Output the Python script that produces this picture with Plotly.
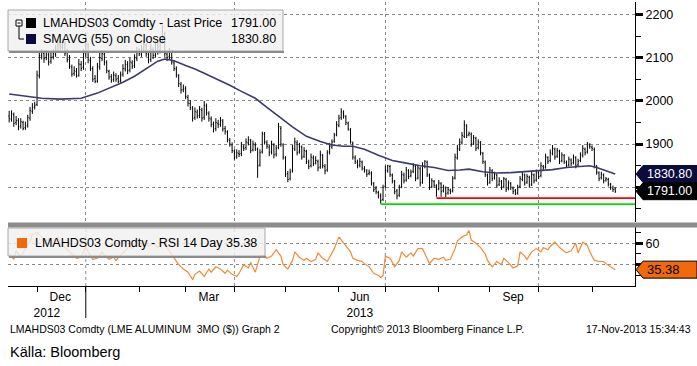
import plotly.graph_objects as go
import pandas as pd

W, H = 697, 366
FONT = "Liberation Sans, Arial, sans-serif"

# ---------------- data ----------------
start_date = "2012-11-15"
n_days = 262
dates = pd.bdate_range(start_date, periods=n_days)

open_ = [1965,1958,1968,1950,1954,1942,1950,1938,1944,1960,
 1976,1986,1992,2058,2104,2110,2100,2106,2092,2102,
 2108,2118,2128,2124,2132,2112,2096,2078,2064,2068,
 2060,2084,2078,2108,2128,2094,2074,2052,2046,2078,
 2098,2108,2088,2068,2056,2050,2058,2052,2046,2062,
 2074,2084,2072,2088,2082,2098,2114,2108,2118,2128,
 2108,2096,2118,2106,2128,2116,2138,2155,2108,2102,
 2112,2088,2074,2058,2038,2026,2028,2008,1994,1982,
 1962,1974,1966,1978,1962,1988,1970,1958,1946,1936,
 1948,1946,1952,1936,1928,1908,1898,1884,1872,1878,
 1878,1893,1892,1903,1908,1887,1898,1888,1852,1882,
 1922,1903,1893,1882,1898,1877,1892,1936,1898,1868,
 1832,1820,1838,1888,1903,1882,1893,1872,1883,1858,
 1850,1868,1857,1860,1847,1873,1848,1840,1882,1893,
 1907,1922,1943,1962,1972,1963,1948,1933,1902,1868,
 1858,1852,1858,1843,1838,1832,1833,1808,1797,1788,
 1782,1772,1802,1838,1848,1828,1813,1792,1782,1802,
 1828,1817,1838,1827,1837,1848,1822,1843,1812,1848,
 1858,1828,1802,1813,1803,1797,1808,1792,1798,1787,
 1793,1792,1822,1868,1888,1903,1918,1942,1922,1923,
 1902,1913,1892,1903,1878,1858,1828,1812,1838,1822,
 1828,1807,1813,1802,1818,1797,1808,1798,1792,1787,
 1802,1818,1828,1812,1823,1807,1828,1817,1833,1827,
 1848,1847,1868,1862,1878,1888,1872,1883,1862,1873,
 1858,1852,1863,1857,1868,1852,1862,1873,1888,1882,
 1898,1893,1888,1848,1833,1822,1828,1817,1818,1806,
 1798,1796]

high = [1977,1978,1973,1965,1960,1960,1954,1952,1968,1986,
 1995,1998,2070,2115,2120,2116,2118,2112,2112,2120,
 2130,2142,2136,2143,2138,2120,2106,2084,2080,2076,
 2097,2092,2120,2157,2134,2102,2080,2060,2088,2112,
 2118,2114,2094,2072,2062,2068,2064,2060,2068,2085,
 2095,2092,2100,2094,2108,2125,2122,2130,2142,2134,
 2114,2132,2124,2140,2136,2150,2176,2160,2116,2123,
 2118,2094,2080,2062,2044,2038,2034,2014,2002,1988,
 1985,1980,1988,1984,2000,1994,1976,1964,1952,1960,
 1956,1963,1958,1942,1932,1914,1904,1888,1888,1886,
 1905,1899,1913,1918,1912,1908,1904,1892,1888,1929,
 1928,1909,1899,1908,1902,1898,1949,1942,1902,1872,
 1838,1843,1898,1915,1909,1903,1897,1893,1887,1864,
 1878,1874,1872,1864,1885,1877,1854,1886,1903,1911,
 1926,1953,1968,1983,1978,1967,1952,1937,1906,1874,
 1864,1868,1862,1849,1842,1841,1837,1812,1803,1792,
 1786,1806,1850,1852,1852,1832,1817,1796,1806,1838,
 1834,1847,1842,1841,1856,1852,1851,1847,1858,1863,
 1862,1832,1821,1817,1807,1817,1812,1806,1802,1801,
 1797,1826,1878,1898,1913,1928,1955,1946,1929,1927,
 1921,1917,1911,1907,1882,1862,1832,1847,1842,1836,
 1832,1823,1817,1824,1822,1816,1812,1802,1796,1806,
 1826,1836,1832,1831,1827,1836,1832,1841,1837,1858,
 1852,1878,1872,1888,1898,1892,1891,1887,1881,1877,
 1862,1871,1867,1876,1872,1866,1881,1898,1892,1905,
 1902,1897,1892,1852,1837,1836,1832,1824,1822,1810,
 1804,1800]

low = [1950,1952,1940,1944,1932,1936,1932,1933,1938,1954,
 1970,1980,1988,2052,2096,2088,2094,2082,2086,2096,
 2102,2112,2117,2118,2104,2089,2074,2056,2058,2054,
 2056,2069,2072,2102,2087,2069,2044,2041,2042,2072,
 2092,2082,2064,2049,2042,2044,2044,2041,2042,2056,
 2068,2062,2066,2074,2076,2092,2104,2102,2112,2102,
 2087,2090,2097,2100,2107,2110,2132,2102,2092,2096,
 2084,2069,2054,2032,2017,2020,2004,1987,1979,1952,
 1956,1959,1960,1952,1956,1966,1952,1939,1927,1930,
 1937,1940,1929,1922,1904,1894,1879,1864,1866,1870,
 1872,1884,1886,1897,1879,1883,1884,1822,1848,1878,
 1899,1889,1872,1876,1867,1871,1888,1894,1864,1824,
 1812,1816,1834,1884,1874,1878,1864,1868,1854,1842,
 1846,1849,1853,1837,1843,1844,1830,1836,1876,1889,
 1903,1918,1939,1956,1959,1944,1931,1901,1864,1854,
 1844,1846,1839,1834,1824,1828,1804,1789,1784,1774,
 1762,1768,1798,1834,1824,1809,1784,1772,1778,1798,
 1809,1813,1819,1823,1833,1814,1818,1802,1808,1844,
 1824,1794,1798,1799,1778,1793,1778,1788,1777,1783,
 1784,1788,1818,1864,1884,1899,1914,1914,1918,1894,
 1898,1884,1888,1874,1854,1824,1804,1808,1814,1818,
 1799,1803,1794,1798,1789,1793,1794,1784,1782,1783,
 1798,1814,1804,1808,1799,1803,1809,1813,1819,1823,
 1839,1843,1854,1858,1874,1864,1868,1854,1858,1854,
 1846,1848,1849,1853,1844,1848,1858,1869,1874,1878,
 1889,1884,1844,1829,1814,1818,1809,1813,1802,1794,
 1789,1787]

close = [1960,1970,1948,1955,1940,1952,1936,1942,1962,1978,
 1985,1990,2060,2105,2112,2098,2108,2090,2100,2110,
 2120,2130,2125,2135,2110,2095,2080,2062,2070,2058,
 2085,2075,2110,2130,2095,2075,2050,2045,2080,2100,
 2110,2090,2070,2055,2048,2060,2050,2045,2060,2075,
 2085,2070,2090,2080,2100,2115,2110,2120,2130,2110,
 2095,2120,2105,2130,2115,2140,2160,2110,2100,2115,
 2090,2075,2060,2040,2025,2030,2010,1995,1985,1960,
 1975,1965,1980,1960,1990,1972,1960,1945,1935,1950,
 1945,1955,1935,1930,1910,1900,1885,1870,1880,1876,
 1895,1890,1905,1910,1885,1900,1890,1850,1880,1925,
 1905,1895,1880,1900,1875,1890,1940,1900,1870,1830,
 1818,1835,1890,1905,1880,1895,1870,1885,1860,1848,
 1870,1855,1862,1845,1875,1850,1838,1880,1895,1905,
 1920,1945,1960,1975,1965,1950,1935,1905,1870,1860,
 1850,1860,1845,1840,1830,1835,1810,1795,1790,1780,
 1770,1800,1840,1850,1830,1815,1790,1780,1800,1830,
 1815,1840,1825,1835,1850,1820,1845,1810,1850,1860,
 1830,1800,1815,1805,1795,1810,1790,1800,1785,1795,
 1790,1820,1870,1890,1905,1920,1945,1920,1925,1900,
 1915,1890,1905,1880,1860,1830,1810,1840,1820,1830,
 1805,1815,1800,1820,1795,1810,1800,1790,1785,1800,
 1820,1830,1810,1825,1805,1830,1815,1835,1825,1850,
 1845,1870,1860,1880,1890,1870,1885,1860,1875,1860,
 1850,1865,1855,1870,1850,1860,1875,1890,1880,1900,
 1895,1890,1850,1835,1820,1830,1815,1820,1808,1800,
 1795,1791]

sma_idx = [0,6,14,22,31,38,43,49,54,60,64,67,71,76,80,84,89,95,100,106,
 111,117,122,128,134,139,144,148,153,159,165,171,177,183,189,194,198,204,210,216,
 222,228,234,240,246,250,253,257,261]
sma_val = [2016,2012,2006,2004,2006,2018,2030,2043,2057,2078,2092,2097,2093,2082,2074,
 2064,2052,2036,2022,2006,1985,1960,1940,1918,1906,1898,1895,1895,1888,1874,
 1862,1856,1850,1846,1839,1840,1842,1836,1833,1834,1836,1838,1841,1846,1849,
 1850,1846,1838,1830.8]

rsi_idx = [0,2,3,5,7,9,10,12,14,15,17,19,21,22,24,26,27,29,31,33,
 34,36,38,40,41,43,45,46,48,50,52,53,55,57,58,60,62,64,65,67,
 68,70,72,73,75,77,79,80,82,84,86,87,89,91,93,94,96,98,99,101,
 103,104,106,108,110,111,113,115,117,118,120,122,123,125,127,128,130,132,133,135,
 137,138,140,142,143,145,147,148,150,152,153,155,157,159,160,161,162,164,166,168,
 169,171,173,174,176,178,180,181,183,185,187,188,190,192,193,195,197,198,199,201,
 203,205,206,208,210,212,213,215,217,219,220,222,223,225,227,229,230,232,233,235,
 237,239,240,242,244,245,247,249,250,252,254,256,257,259,261]
rsi_val = [50,45,53,47,55,62,68,70,66,60,64,62,66,60,56,52,50,46,47,57,
 52,45,46,52,49,45,47,44,49,53,58,55,60,58,62,57,60,56,58,61,
 56,50,44,40,36,33,26,31,34,29,36,33,38,36,32,35,31,29,32,40,
 37,42,33,48,49,46,48,54,48,40,36,44,52,47,44,46,43,45,51,46,
 43,47,55,66,63,58,52,46,44,43,41,38,32,30,28,30,48,46,38,44,
 52,47,51,48,55,55,46,41,46,45,47,44,45,55,62,66,68,72,63,60,
 56,50,44,38,43,40,46,42,37,39,52,48,45,52,55,52,56,54,57,61,
 56,53,51,53,60,51,61,58,52,44,43,43,41,38,35.38]

support_start = ["2013-06-27", "2013-07-31"]
support_level = [1761, 1775]
support_color = ["#00e000", "#ff0000"]

grid_dates = ["2013-01-01", "2013-04-01", "2013-07-01", "2013-10-01"]
month_starts = ["2012-12-03", "2013-01-01", "2013-02-01", "2013-03-01", "2013-04-01",
                "2013-05-01", "2013-06-03", "2013-07-01", "2013-08-01", "2013-09-02",
                "2013-10-01", "2013-11-01"]
label_dates = ["2012-12-17", "2013-03-15", "2013-06-14", "2013-09-16"]
label_text = ["Dec<br>2012" + "\u00a0" * 8, "Mar", "Jun<br>2013", "Sep"]
price_ticks = [1800, 1900, 2000, 2100, 2200]
price_tick_text = ["", "1900", "2000", "2100", "2200"]   # 1800 hidden behind the tag
rsi_ticks = [40, 60]
rsi_tick_text = ["", "60"]                               # 40 hidden behind the tag
x_range = ["2012-11-14 12:00", "2013-11-27 12:00"]
price_range = [1719.7, 2228.9]
rsi_range = [20.1, 75.2]

# ---------------- helpers (layout decoration positions in px) ----------------
def fx(px):
    return px / W

def fy(px):
    return 1 - px / H

sma_dates = [dates[i] for i in sma_idx]
rsi_dates = [dates[i] for i in rsi_idx]

fig = go.Figure()

fig.add_trace(go.Ohlc(
    x=dates, open=open_, high=high, low=low, close=close,
    increasing=dict(line=dict(color="#000000", width=1)),
    decreasing=dict(line=dict(color="#000000", width=1)),
    tickwidth=0.35, xaxis="x", yaxis="y", hoverinfo="skip"))

fig.add_trace(go.Scatter(x=sma_dates, y=sma_val, mode="lines",
                         line=dict(color="#3b3b6e", width=1.6),
                         xaxis="x", yaxis="y", hoverinfo="skip"))

for s, lv, col in zip(support_start, support_level, support_color):
    fig.add_trace(go.Scatter(x=[s, "2013-12-31"], y=[lv, lv], mode="lines",
                             line=dict(color=col, width=1.6),
                             xaxis="x", yaxis="y", hoverinfo="skip"))

fig.add_trace(go.Scatter(x=rsi_dates, y=rsi_val, mode="lines",
                         line=dict(color="#f28a34", width=1.2),
                         xaxis="x2", yaxis="y2", hoverinfo="skip"))

rb = [dict(bounds=["sat", "mon"])]
tickfont = dict(family=FONT, size=12.5, color="#000000")

fig.update_layout(
    width=W, height=H, margin=dict(l=0, r=0, t=0, b=0),
    paper_bgcolor="white", plot_bgcolor="white", showlegend=False,
    hovermode=False,
    xaxis=dict(domain=[fx(8), fx(635)], anchor="y", range=x_range, rangebreaks=rb,
               tickmode="array", tickvals=grid_dates, showticklabels=False, ticks="",
               showgrid=True, gridcolor="#8a8a8a", griddash="dot", gridwidth=1,
               showline=False, zeroline=False, rangeslider=dict(visible=False),
               fixedrange=True),
    yaxis=dict(domain=[fy(222), fy(2)], anchor="x", side="right", range=price_range,
               tickmode="array", tickvals=price_ticks, ticktext=price_tick_text,
               ticks="outside", ticklen=7,
               tickwidth=3, tickcolor="#000000", tickfont=tickfont,
               showgrid=True, gridcolor="#8a8a8a", griddash="dot", gridwidth=1,
               showline=True, linecolor="#000000", linewidth=1, zeroline=False,
               minor=dict(dtick=50, tick0=1750, ticks="outside", ticklen=5,
                          tickcolor="#000000", tickwidth=1, showgrid=False),
               fixedrange=True),
    xaxis2=dict(domain=[fx(8), fx(635)], anchor="y2", range=x_range, rangebreaks=rb,
                tickmode="array", tickvals=label_dates, ticktext=label_text, ticks="",
                tickfont=dict(family=FONT, size=12, color="#000000"),
                showgrid=False, showline=True, linecolor="#000000", linewidth=1,
                zeroline=False,
                minor=dict(tickmode="array", tickvals=month_starts, ticks="outside",
                           ticklen=5, tickcolor="#000000", tickwidth=1, showgrid=False),
                fixedrange=True),
    yaxis2=dict(domain=[fy(286), fy(227)], anchor="x2", side="right", range=rsi_range,
                tickmode="array", tickvals=rsi_ticks, ticktext=rsi_tick_text,
                ticks="outside", ticklen=7,
                tickwidth=3, tickcolor="#000000", tickfont=tickfont,
                showgrid=True, gridcolor="#8a8a8a", griddash="dot", gridwidth=1,
                showline=True, linecolor="#000000", linewidth=1, zeroline=False,
                minor=dict(tickmode="array", tickvals=[30, 50, 70], ticks="outside",
                           ticklen=5, tickcolor="#000000", tickwidth=1, showgrid=False),
                fixedrange=True),
)

shapes = []
# quarterly gridlines in RSI panel
for d in grid_dates:
    shapes.append(dict(type="line", xref="x2", yref="y2 domain", x0=d, x1=d, y0=0, y1=1,
                       line=dict(color="#8a8a8a", width=1, dash="dot"), layer="below"))
# gray separator between panels
shapes.append(dict(type="rect", xref="paper", yref="paper", x0=fx(8), x1=1,
                   y0=fy(227.5), y1=fy(222.5), fillcolor="#8c8c8c", line=dict(width=0)))
# year separator tick
shapes.append(dict(type="line", xref="x2", yref="paper", x0="2013-01-01", x1="2013-01-01",
                   y0=fy(286), y1=fy(318), line=dict(color="#000000", width=1)))

# legend box (price panel)
shapes.append(dict(type="rect", xref="paper", yref="paper", x0=fx(8), x1=fx(283),
                   y0=fy(51), y1=fy(10), fillcolor="rgba(240,240,240,0.82)",
                   line=dict(color="#a8a8a8", width=1)))
shapes.append(dict(type="line", xref="paper", yref="paper", x0=fx(9), x1=fx(284),
                   y0=fy(52), y1=fy(52), line=dict(color="#8c8c8c", width=2)))
shapes.append(dict(type="rect", xref="paper", yref="paper", x0=fx(16), x1=fx(22),
                   y0=fy(26), y1=fy(20), fillcolor="white",
                   line=dict(color="#000000", width=1)))
shapes.append(dict(type="line", xref="paper", yref="paper", x0=fx(17.5), x1=fx(20.5),
                   y0=fy(23), y1=fy(23), line=dict(color="#000000", width=1)))
shapes.append(dict(type="line", xref="paper", yref="paper", x0=fx(19), x1=fx(19),
                   y0=fy(26), y1=fy(39), line=dict(color="#000000", width=1)))
shapes.append(dict(type="line", xref="paper", yref="paper", x0=fx(19), x1=fx(24),
                   y0=fy(39), y1=fy(39), line=dict(color="#000000", width=1)))
shapes.append(dict(type="rect", xref="paper", yref="paper", x0=fx(26), x1=fx(36),
                   y0=fy(28), y1=fy(18), fillcolor="#000000", line=dict(width=0)))
shapes.append(dict(type="rect", xref="paper", yref="paper", x0=fx(26), x1=fx(36),
                   y0=fy(44), y1=fy(34), fillcolor="#0a0a40", line=dict(width=0)))

# legend box (RSI panel)
shapes.append(dict(type="rect", xref="paper", yref="paper", x0=fx(8), x1=fx(265),
                   y0=fy(256), y1=fy(228), fillcolor="rgba(240,240,240,0.82)",
                   line=dict(color="#a8a8a8", width=1)))
shapes.append(dict(type="line", xref="paper", yref="paper", x0=fx(9), x1=fx(266),
                   y0=fy(257), y1=fy(257), line=dict(color="#8c8c8c", width=2)))
shapes.append(dict(type="rect", xref="paper", yref="paper", x0=fx(17), x1=fx(27),
                   y0=fy(248), y1=fy(238), fillcolor="#f06a0c", line=dict(width=0)))

# value tags on the right axis
def tag(v, half, yref, fill, border):
    tip, left = fx(636), fx(643)
    path = (f"M {tip},{v} L {left},{v + half} L 1,{v + half} "
            f"L 1,{v - half} L {left},{v - half} Z")
    return dict(type="path", xref="paper", yref=yref, path=path, fillcolor=fill,
                line=dict(color=border, width=1))

price_half = 8.5 * (price_range[1] - price_range[0]) / 220.0
rsi_half = 8.5 * (rsi_range[1] - rsi_range[0]) / 59.0
shapes.append(tag(sma_val[-1], price_half, "y", "#0b0b3d", "#0b0b3d"))
shapes.append(tag(close[-1], price_half, "y", "#000000", "#000000"))
shapes.append(tag(rsi_val[-1], rsi_half, "y2", "#f06a0c", "#000000"))

fig.update_layout(shapes=shapes)

ann = []
lf = dict(family=FONT, size=12.5, color="#000000")
ann.append(dict(text="LMAHDS03 Comdty - Last Price", x=fx(41), y=fy(23), xref="paper",
                yref="paper", xanchor="left", yanchor="middle", showarrow=False, font=lf))
ann.append(dict(text=f"{close[-1]:.2f}", x=fx(278), y=fy(23), xref="paper",
                yref="paper", xanchor="right", yanchor="middle", showarrow=False, font=lf))
ann.append(dict(text="SMAVG (55) on Close", x=fx(41), y=fy(39), xref="paper",
                yref="paper", xanchor="left", yanchor="middle", showarrow=False, font=lf))
ann.append(dict(text=f"{sma_val[-1]:.2f}", x=fx(278), y=fy(39), xref="paper",
                yref="paper", xanchor="right", yanchor="middle", showarrow=False, font=lf))
ann.append(dict(text=f"LMAHDS03 Comdty - RSI 14 Day {rsi_val[-1]:.2f}", x=fx(33), y=fy(243),
                xref="paper", yref="paper", xanchor="left", yanchor="middle",
                showarrow=False, font=lf))

tf = dict(family=FONT, size=12.5, color="#ffffff")
ann.append(dict(text=f"{sma_val[-1]:.2f}", x=fx(645), y=sma_val[-1], xref="paper",
                yref="y", xanchor="left", yanchor="middle", showarrow=False, font=tf))
ann.append(dict(text=f"{close[-1]:.2f}", x=fx(645), y=close[-1], xref="paper",
                yref="y", xanchor="left", yanchor="middle", showarrow=False, font=tf))
ann.append(dict(text=f"{rsi_val[-1]:.2f}", x=fx(645), y=rsi_val[-1], xref="paper",
                yref="y2", xanchor="left", yanchor="middle", showarrow=False,
                font=dict(family=FONT, size=13, color="#000000")))

ff = dict(family=FONT, size=10.5, color="#000000")
ann.append(dict(text="LMAHDS03 Comdty (LME ALUMINUM  3MO ($)) Graph 2", x=fx(8), y=fy(329),
                xref="paper", yref="paper", xanchor="left", yanchor="middle",
                showarrow=False, font=ff))
ann.append(dict(text="Copyright\u00a9 2013 Bloomberg Finance L.P.", x=fx(329), y=fy(329),
                xref="paper", yref="paper", xanchor="left", yanchor="middle",
                showarrow=False, font=ff))
ann.append(dict(text="17-Nov-2013 15:34:43", x=fx(693), y=fy(329),
                xref="paper", yref="paper", xanchor="right", yanchor="middle",
                showarrow=False, font=ff))
ann.append(dict(text="Källa: Bloomberg", x=fx(8), y=fy(352), xref="paper", yref="paper",
                xanchor="left", yanchor="middle", showarrow=False,
                font=dict(family=FONT, size=14.5, color="#000000")))

fig.update_layout(annotations=ann)

fig.write_html("out.html",
               config={"displayModeBar": False, "staticPlot": True},
               post_script="document.body.style.margin='0px';"
                           "document.body.style.padding='0px';"
                           "document.body.style.overflow='hidden';")
